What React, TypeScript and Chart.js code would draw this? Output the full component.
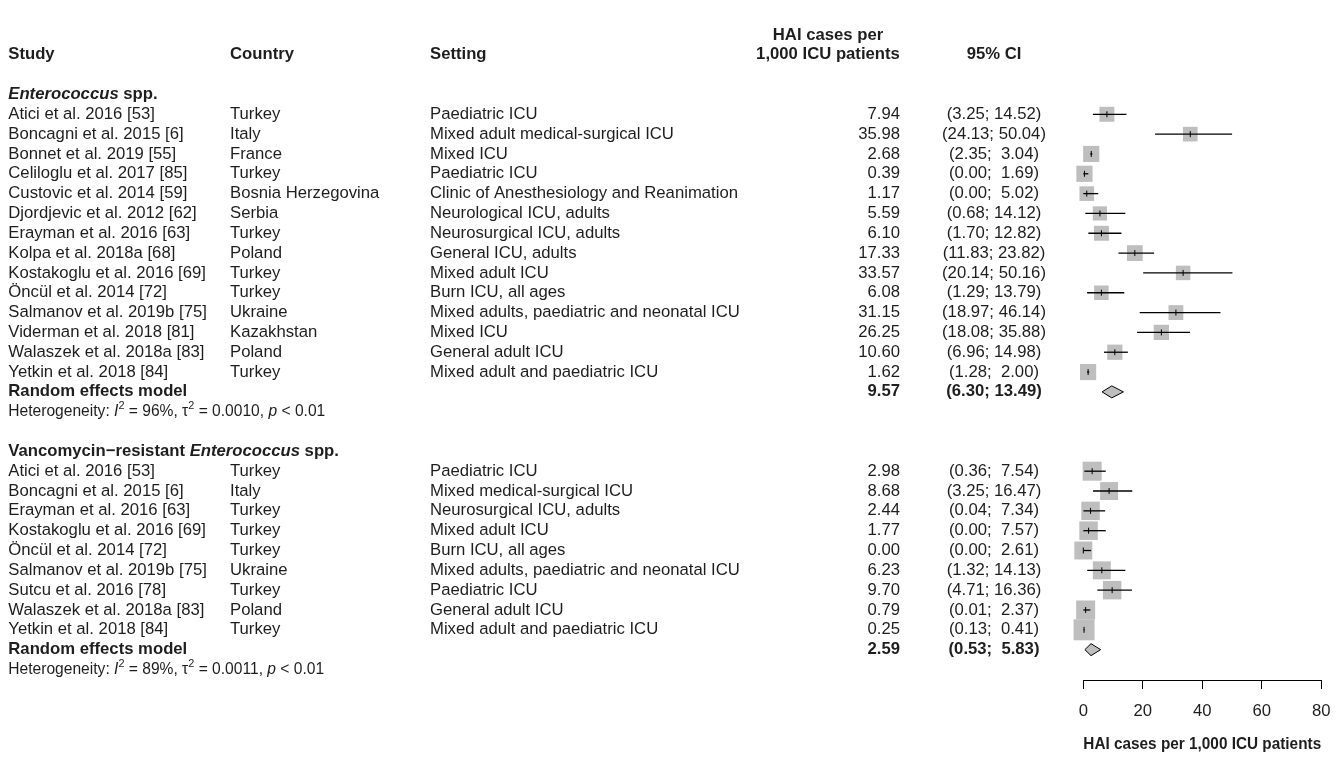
import React, { useEffect, useRef } from "react";
import { Chart, registerables } from "chart.js";

Chart.register(...registerables);

const FONT = "'Liberation Sans', Arial, Helvetica, sans-serif";
const FS = 16.7;
const TXT = "#1e1e1e";

// ---------- data ----------
const studiesE = [
  "Atici et al. 2016 [53]",
  "Boncagni et al. 2015 [6]",
  "Bonnet et al. 2019 [55]",
  "Celiloglu et al. 2017 [85]",
  "Custovic et al. 2014 [59]",
  "Djordjevic et al. 2012 [62]",
  "Erayman et al. 2016 [63]",
  "Kolpa et al. 2018a [68]",
  "Kostakoglu et al. 2016 [69]",
  "Öncül et al. 2014 [72]",
  "Salmanov et al. 2019b [75]",
  "Viderman et al. 2018 [81]",
  "Walaszek et al. 2018a [83]",
  "Yetkin et al. 2018 [84]",
];
const countriesE = [
  "Turkey", "Italy", "France", "Turkey", "Bosnia Herzegovina", "Serbia", "Turkey",
  "Poland", "Turkey", "Turkey", "Ukraine", "Kazakhstan", "Poland", "Turkey",
];
const settingsE = [
  "Paediatric ICU",
  "Mixed adult medical-surgical ICU",
  "Mixed ICU",
  "Paediatric ICU",
  "Clinic of Anesthesiology and Reanimation",
  "Neurological ICU, adults",
  "Neurosurgical ICU, adults",
  "General ICU, adults",
  "Mixed adult ICU",
  "Burn ICU, all ages",
  "Mixed adults, paediatric and neonatal ICU",
  "Mixed ICU",
  "General adult ICU",
  "Mixed adult and paediatric ICU",
];
const estE = [7.94, 35.98, 2.68, 0.39, 1.17, 5.59, 6.10, 17.33, 33.57, 6.08, 31.15, 26.25, 10.60, 1.62];
const lowE = [3.25, 24.13, 2.35, 0.00, 0.00, 0.68, 1.70, 11.83, 20.14, 1.29, 18.97, 18.08, 6.96, 1.28];
const highE = [14.52, 50.04, 3.04, 1.69, 5.02, 14.12, 12.82, 23.82, 50.16, 13.79, 46.14, 35.88, 14.98, 2.00];
const weightsE = [7.0, 6.7, 8.2, 8.2, 6.7, 6.3, 7.0, 7.8, 6.6, 6.6, 6.9, 7.3, 7.3, 8.2];

const studiesV = [
  "Atici et al. 2016 [53]",
  "Boncagni et al. 2015 [6]",
  "Erayman et al. 2016 [63]",
  "Kostakoglu et al. 2016 [69]",
  "Öncül et al. 2014 [72]",
  "Salmanov et al. 2019b [75]",
  "Sutcu et al. 2016 [78]",
  "Walaszek et al. 2018a [83]",
  "Yetkin et al. 2018 [84]",
];
const countriesV = ["Turkey", "Italy", "Turkey", "Turkey", "Turkey", "Ukraine", "Turkey", "Poland", "Turkey"];
const settingsV = [
  "Paediatric ICU",
  "Mixed medical-surgical ICU",
  "Neurosurgical ICU, adults",
  "Mixed adult ICU",
  "Burn ICU, all ages",
  "Mixed adults, paediatric and neonatal ICU",
  "Paediatric ICU",
  "General adult ICU",
  "Mixed adult and paediatric ICU",
];
const estV = [2.98, 8.68, 2.44, 1.77, 0.00, 6.23, 9.70, 0.79, 0.25];
const lowV = [0.36, 3.25, 0.04, 0.00, 0.00, 1.32, 4.71, 0.01, 0.13];
const highV = [7.54, 16.47, 7.34, 7.57, 2.61, 14.13, 16.36, 2.37, 0.41];
const weightsV = [11.3, 10.1, 10.7, 10.7, 10.1, 10.1, 10.7, 11.3, 13.8];

const pooledEst = [9.57, 2.59];
const pooledLow = [6.30, 0.53];
const pooledHigh = [13.49, 5.83];
const hetI2 = ["96%", "89%"];
const hetTau2 = ["0.0010", "0.0011"];
const hetP = ["0.01", "0.01"];

const xTicksMin = 0;
const xTicksMax = 80;
const xTickStep = 20;
const axisTitle = "HAI cases per 1,000 ICU patients";

// ---------- row layout ----------
const titleRowE = 0;
const rowsE = studiesE.map((_, i) => titleRowE + 1 + i);
const pooledRowE = titleRowE + 1 + studiesE.length;
const hetRowE = pooledRowE + 1;
const titleRowV = hetRowE + 2;
const rowsV = studiesV.map((_, i) => titleRowV + 1 + i);
const pooledRowV = titleRowV + 1 + studiesV.length;
const hetRowV = pooledRowV + 1;
const headerRow1 = -3;
const headerRow2 = -2;

const ROW_MIN = -4.016;
const ROW_MAX = 29.531;

// column positions
const COL_STUDY = 8.3;
const COL_COUNTRY = 230;
const COL_SETTING = 430;
const COL_EST_RIGHT = 900;
const COL_EST_HEAD = 828;
const COL_CI = 994;

const BOX_SCALE = 5.65;
const BOX_FILL = "#bebebe";

type Run = { t: string; b?: boolean; i?: boolean; sup?: boolean };

function fontOf(r: Run, size: number) {
  const s = r.sup ? size * 0.7 : size;
  return `${r.i ? "italic " : ""}${r.b ? "bold " : ""}${s}px ${FONT}`;
}

function drawRuns(
  ctx: CanvasRenderingContext2D,
  runs: Run[],
  x: number,
  y: number,
  size: number,
  align: "left" | "right" | "center" = "left"
) {
  ctx.textBaseline = "middle";
  ctx.textAlign = "left";
  let total = 0;
  const widths = runs.map((r) => {
    ctx.font = fontOf(r, size);
    const w = ctx.measureText(r.t).width;
    total += w;
    return w;
  });
  let cx = x;
  if (align === "right") cx = x - total;
  if (align === "center") cx = x - total / 2;
  runs.forEach((r, k) => {
    ctx.font = fontOf(r, size);
    ctx.fillText(r.t, cx, r.sup ? y - size * 0.38 : y);
    cx += widths[k];
  });
}

function fmtCI(lo: number, hi: number) {
  return `(${lo.toFixed(2)}; ${hi.toFixed(2).padStart(5, " ")})`;
}

const forestPlugin = {
  id: "forestPlugin",
  afterDatasetsDraw(chart: any) {
    const ctx: CanvasRenderingContext2D = chart.ctx;
    const xs = chart.scales.x;
    const ys = chart.scales.y;
    ctx.save();
    ctx.strokeStyle = "#000";
    ctx.lineWidth = 1.3;
    const groups = [
      { rows: rowsE, est: estE, lo: lowE, hi: highE },
      { rows: rowsV, est: estV, lo: lowV, hi: highV },
    ];
    groups.forEach((g) => {
      g.rows.forEach((r, i) => {
        const y = ys.getPixelForValue(r);
        ctx.beginPath();
        ctx.lineWidth = 1.3;
        ctx.moveTo(xs.getPixelForValue(g.lo[i]), y);
        ctx.lineTo(xs.getPixelForValue(g.hi[i]), y);
        ctx.stroke();
        const xe = xs.getPixelForValue(g.est[i]);
        ctx.beginPath();
        ctx.lineWidth = 1;
        ctx.moveTo(xe, y - 3);
        ctx.lineTo(xe, y + 3);
        ctx.stroke();
      });
    });
    [pooledRowE, pooledRowV].forEach((r, k) => {
      const y = ys.getPixelForValue(r);
      const xl = xs.getPixelForValue(pooledLow[k]);
      const xh = xs.getPixelForValue(pooledHigh[k]);
      const xe = xs.getPixelForValue(pooledEst[k]);
      ctx.beginPath();
      ctx.moveTo(xl, y);
      ctx.lineTo(xe, y - 6);
      ctx.lineTo(xh, y);
      ctx.lineTo(xe, y + 6);
      ctx.closePath();
      ctx.fillStyle = BOX_FILL;
      ctx.fill();
      ctx.lineWidth = 1;
      ctx.strokeStyle = "#000";
      ctx.stroke();
    });
    ctx.restore();
  },
  afterDraw(chart: any) {
    const ctx: CanvasRenderingContext2D = chart.ctx;
    const ys = chart.scales.y;
    const Y = (r: number) => ys.getPixelForValue(r);
    ctx.save();
    ctx.fillStyle = TXT;

    // header
    drawRuns(ctx, [{ t: "Study", b: true }], COL_STUDY, Y(headerRow2), FS);
    drawRuns(ctx, [{ t: "Country", b: true }], COL_COUNTRY, Y(headerRow2), FS);
    drawRuns(ctx, [{ t: "Setting", b: true }], COL_SETTING, Y(headerRow2), FS);
    drawRuns(ctx, [{ t: "HAI cases per", b: true }], COL_EST_HEAD, Y(headerRow1), FS, "center");
    drawRuns(ctx, [{ t: "1,000 ICU patients", b: true }], COL_EST_HEAD, Y(headerRow2), FS, "center");
    drawRuns(ctx, [{ t: "95% CI", b: true }], COL_CI, Y(headerRow2), FS, "center");

    const groups = [
      {
        title: [{ t: "Enterococcus", b: true, i: true }, { t: " spp.", b: true }],
        titleRow: titleRowE, rows: rowsE, studies: studiesE, countries: countriesE, settings: settingsE,
        est: estE, lo: lowE, hi: highE, pooledRow: pooledRowE, hetRow: hetRowE,
      },
      {
        title: [{ t: "Vancomycin\u2212resistant ", b: true }, { t: "Enterococcus", b: true, i: true }, { t: " spp.", b: true }],
        titleRow: titleRowV, rows: rowsV, studies: studiesV, countries: countriesV, settings: settingsV,
        est: estV, lo: lowV, hi: highV, pooledRow: pooledRowV, hetRow: hetRowV,
      },
    ];
    groups.forEach((g, k) => {
      drawRuns(ctx, g.title, COL_STUDY, Y(g.titleRow), FS);
      g.rows.forEach((r, i) => {
        const y = Y(r);
        drawRuns(ctx, [{ t: g.studies[i] }], COL_STUDY, y, FS);
        drawRuns(ctx, [{ t: g.countries[i] }], COL_COUNTRY, y, FS);
        drawRuns(ctx, [{ t: g.settings[i] }], COL_SETTING, y, FS);
        drawRuns(ctx, [{ t: g.est[i].toFixed(2) }], COL_EST_RIGHT, y, FS, "right");
        drawRuns(ctx, [{ t: fmtCI(g.lo[i], g.hi[i]) }], COL_CI, y, FS, "center");
      });
      const py = Y(g.pooledRow);
      drawRuns(ctx, [{ t: "Random effects model", b: true }], COL_STUDY, py, FS);
      drawRuns(ctx, [{ t: pooledEst[k].toFixed(2), b: true }], COL_EST_RIGHT, py, FS, "right");
      drawRuns(ctx, [{ t: fmtCI(pooledLow[k], pooledHigh[k]), b: true }], COL_CI, py, FS, "center");
      const hy = Y(g.hetRow);
      drawRuns(
        ctx,
        [
          { t: "Heterogeneity: " },
          { t: "I", i: true },
          { t: "2", sup: true },
          { t: ` = ${hetI2[k]}, ` },
          { t: "\u03c4" },
          { t: "2", sup: true },
          { t: ` = ${hetTau2[k]}, ` },
          { t: "p", i: true },
          { t: ` < ${hetP[k]}` },
        ],
        COL_STUDY,
        hy,
        15.6
      );
    });
    ctx.restore();
  },
};

export default function App() {
  const ref = useRef<HTMLCanvasElement>(null);
  useEffect(() => {
    const canvas = ref.current;
    if (!canvas) return;
    const points = [
      ...estE.map((e, i) => ({ x: e, y: rowsE[i] })),
      ...estV.map((e, i) => ({ x: e, y: rowsV[i] })),
    ];
    const radii = [...weightsE, ...weightsV].map((w) => (BOX_SCALE * Math.sqrt(w)) / Math.SQRT2);
    const chart = new Chart(canvas, {
      type: "scatter",
      data: {
        datasets: [
          {
            data: points,
            pointStyle: "rect",
            pointRadius: radii,
            pointHoverRadius: radii,
            pointBackgroundColor: BOX_FILL,
            pointBorderWidth: 0,
            pointBorderColor: BOX_FILL,
            clip: false,
          } as any,
        ],
      },
      options: {
        animation: false,
        responsive: false,
        events: [],
        layout: { padding: { left: 1083.3, right: 13.3, top: 0, bottom: 0 } },
        plugins: { legend: { display: false }, tooltip: { enabled: false } },
        scales: {
          x: {
            type: "linear",
            position: "bottom",
            min: xTicksMin,
            max: xTicksMax,
            ticks: {
              stepSize: xTickStep,
              font: { family: FONT, size: FS },
              color: TXT,
              padding: 12,
              maxRotation: 0,
              autoSkip: false,
            },
            grid: { drawOnChartArea: false, drawTicks: true, tickLength: 9, color: "#000", lineWidth: 1 },
            border: { display: true, color: "#000", width: 1 },
            title: {
              display: true,
              text: axisTitle,
              font: { family: FONT, size: FS, weight: "bold" },
              color: TXT,
              padding: { top: 0, bottom: 4 },
            },
            afterFit: (scale: any) => {
              scale.height = 78;
              scale.paddingLeft = 0;
              scale.paddingRight = 0;
              scale.paddingTop = 0;
              scale.paddingBottom = 0;
            },
          } as any,
          y: {
            type: "linear",
            display: false,
            reverse: true,
            min: ROW_MIN,
            max: ROW_MAX,
            afterFit: (scale: any) => {
              scale.paddingTop = 0;
              scale.paddingBottom = 0;
            },
          } as any,
        },
      },
      plugins: [forestPlugin],
    });
    return () => chart.destroy();
  }, []);
  return (
    <div style={{ position: "absolute", left: 0, top: 0, width: 1336, height: 758, background: "#fff" }}>
      <canvas ref={ref} width={1336} height={758} style={{ display: "block", width: 1336, height: 758 }} />
    </div>
  );
}
